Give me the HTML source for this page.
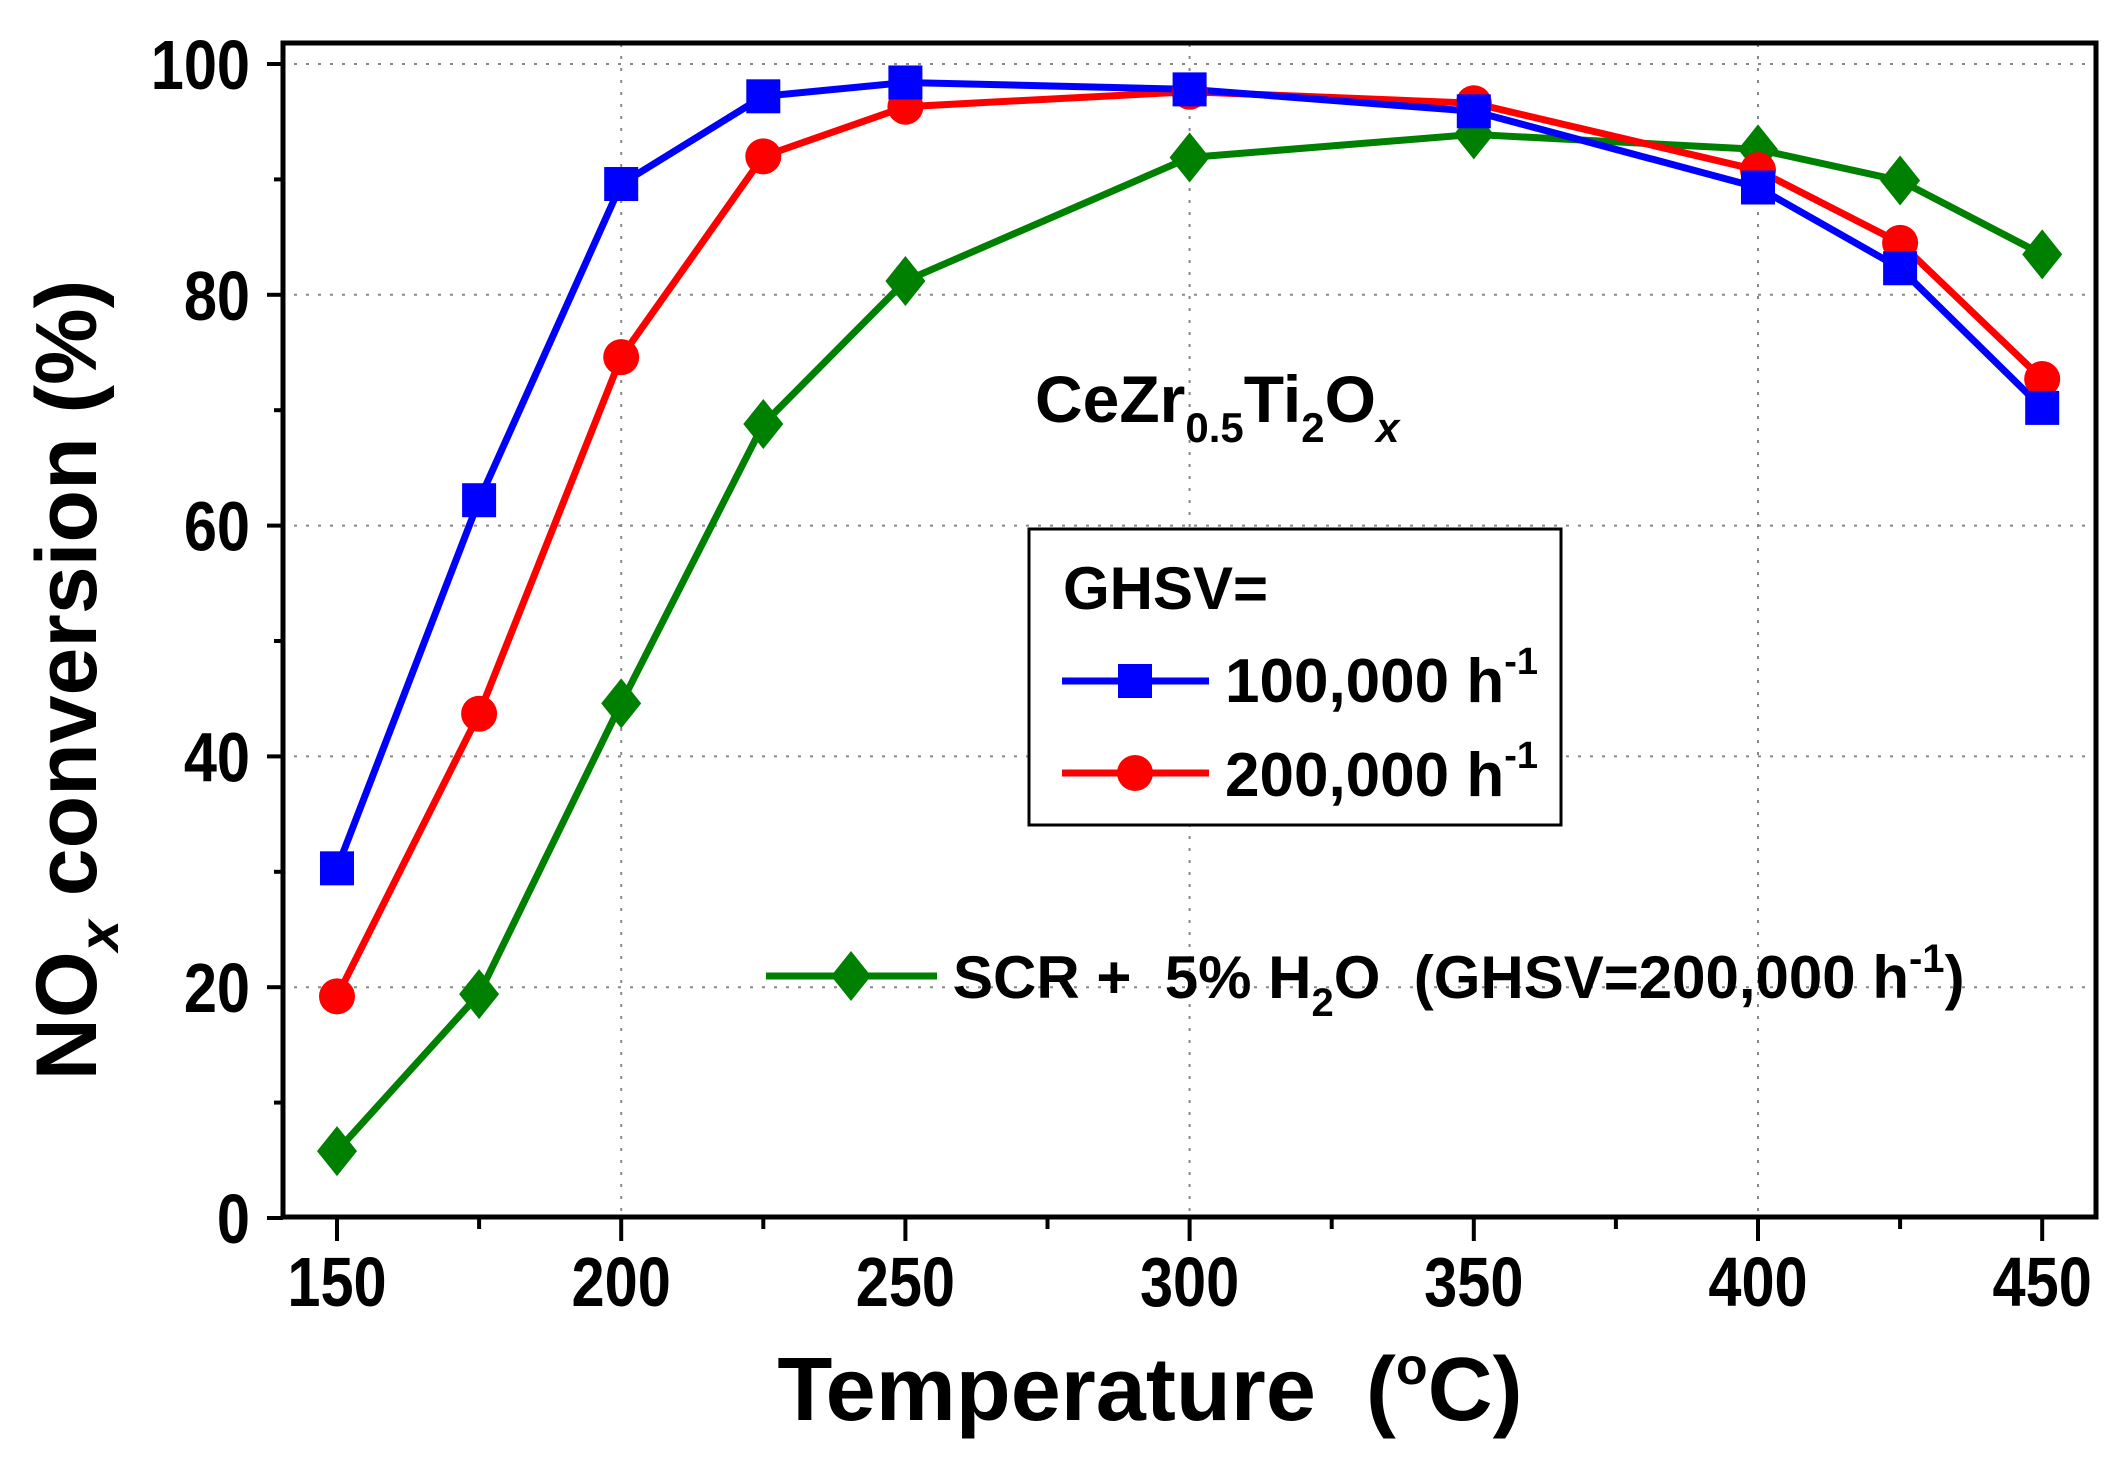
<!DOCTYPE html>
<html><head><meta charset="utf-8"><style>
html,body{margin:0;padding:0;background:#fff;}
svg{display:block;}
text{font-family:"Liberation Sans",Arial,sans-serif;font-weight:bold;fill:#000;}
</style></head><body>
<svg id="s" width="2124" height="1477" viewBox="0 0 2124 1477" xmlns="http://www.w3.org/2000/svg"></svg>
<script>
const X=t=>337+(t-150)*284.2/50, Y=v=>1218-v*11.54;
const T=[150,175,200,225,250,300,350,400,425,450];
const B=[30.3,62.2,89.6,97.2,98.4,97.8,95.9,89.3,82.3,70.2];
const R=[19.2,43.7,74.6,92,96.3,97.6,96.6,90.8,84.5,72.7];
const G=[5.8,19.4,44.6,68.8,81.2,91.9,93.9,92.6,89.9,83.5];
let h='';
for(let v=20;v<=100;v+=20)h+=`<line x1="282" x2="2096" y1="${Y(v)}" y2="${Y(v)}" stroke="#888" stroke-width="2" stroke-dasharray="3,9"/>`;
for(let t of [200,300,400])h+=`<line x1="${X(t)}" x2="${X(t)}" y1="44" y2="1216" stroke="#888" stroke-width="2" stroke-dasharray="3,9"/>`;
h+=`<rect x="283" y="43" width="1813" height="1174" fill="none" stroke="#000" stroke-width="5"/>`;
for(let v=0;v<=100;v+=10){const L=v%20==0?16:9;h+=`<line x1="${283-L}" x2="283" y1="${Y(v)}" y2="${Y(v)}" stroke="#000" stroke-width="4"/>`;
 if(v%20==0)h+=`<text x="250" y="${Y(v)+25}" font-size="70" text-anchor="end" transform="translate(250 0) scale(0.85 1) translate(-250 0)">${v}</text>`;}
for(let t=150;t<=450;t+=25){const L=t%50==0?24:12;h+=`<line x1="${X(t)}" x2="${X(t)}" y1="1217" y2="${1217+L}" stroke="#000" stroke-width="4"/>`;
 if(t%50==0)h+=`<text x="${X(t)}" y="1306" font-size="70" text-anchor="middle" transform="translate(${X(t)} 0) scale(0.85 1) translate(${-X(t)} 0)">${t}</text>`;}
function line(D,c){return `<polyline fill="none" stroke="${c}" stroke-width="7" points="${T.map((t,i)=>X(t)+','+Y(D[i])).join(' ')}"/>`;}
const sq=(x,y)=>`<rect x="${x-17}" y="${y-17}" width="34" height="34" fill="#00f"/>`;
const ci=(x,y)=>`<circle cx="${x}" cy="${y}" r="18" fill="#f00"/>`;
const di=(x,y)=>`<polygon points="${x},${y-25} ${x+20},${y} ${x},${y+25} ${x-20},${y}" fill="#008000"/>`;
h+=line(G,'#008000')+line(R,'#f00')+line(B,'#00f');
T.forEach((t,i)=>{h+=di(X(t),Y(G[i]));});
T.forEach((t,i)=>{h+=ci(X(t),Y(R[i]));});
T.forEach((t,i)=>{h+=sq(X(t),Y(B[i]));});
h+=`<text transform="translate(96 680) rotate(-90)" font-size="86" text-anchor="middle">NO<tspan font-size="56" dy="22" font-style="italic">x</tspan><tspan dy="-22"> conversion (%)</tspan></text>`;
h+=`<text x="1150" y="1420" font-size="90" text-anchor="middle">Temperature&#160; (<tspan font-size="52" dy="-36">o</tspan><tspan dy="36">C)</tspan></text>`;
h+=`<text x="1035" y="422" font-size="66">CeZr<tspan font-size="42" dy="20">0.5</tspan><tspan dy="-20">Ti</tspan><tspan font-size="42" dy="20">2</tspan><tspan dy="-20">O</tspan><tspan font-size="42" dy="20" font-style="italic">x</tspan></text>`;
h+=`<rect x="1029" y="529" width="532" height="296" fill="#fff" stroke="#000" stroke-width="3"/>`;
h+=`<text x="1063" y="609" font-size="60">GHSV=</text>`;
h+=`<line x1="1062" x2="1209" y1="681" y2="681" stroke="#00f" stroke-width="7"/>`+sq(1135,681);
h+=`<text x="1225" y="702" font-size="62">100,000 h<tspan font-size="38" dy="-28">-1</tspan></text>`;
h+=`<line x1="1062" x2="1209" y1="773" y2="773" stroke="#f00" stroke-width="7"/>`+ci(1135,773);
h+=`<text x="1225" y="796" font-size="62">200,000 h<tspan font-size="38" dy="-28">-1</tspan></text>`;
h+=`<line x1="766" x2="937" y1="976" y2="976" stroke="#008000" stroke-width="7"/>`+di(851,976);
h+=`<text x="953" y="998" font-size="60">SCR +&#160; 5% H<tspan font-size="40" dy="18">2</tspan><tspan dy="-18">O&#160; (GHSV=200,000 h</tspan><tspan font-size="40" dy="-26">-1</tspan><tspan dy="26">)</tspan></text>`;
document.getElementById('s').innerHTML=h;
</script>
</body></html>
